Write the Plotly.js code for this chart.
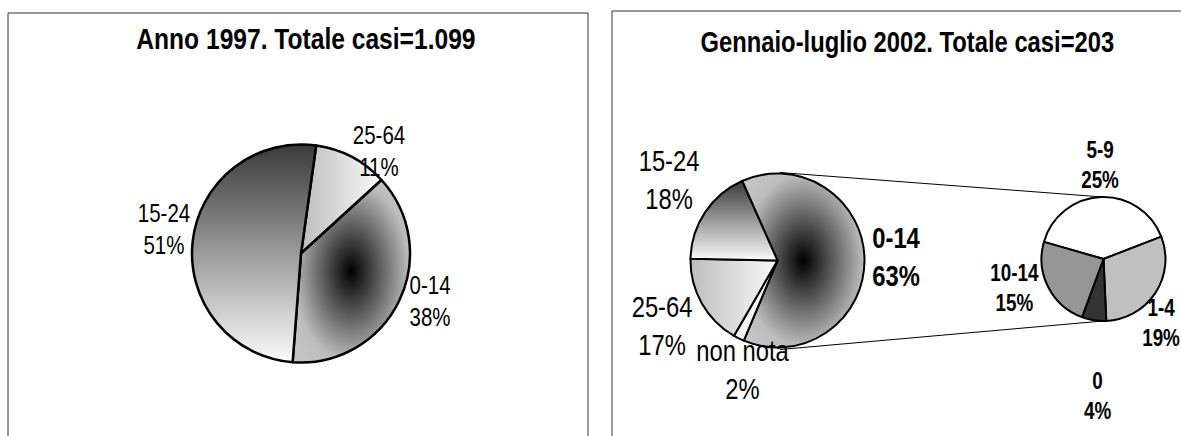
<!DOCTYPE html>
<html>
<head>
<meta charset="utf-8">
<script src="https://cdn.plot.ly/plotly-3.0.1.min.js"></script>
<style>
html,body{margin:0;padding:0;background:#fff;}
#chart{width:1181px;height:436px;}
</style>
</head>
<body>
<div id="chart"></div>
<script>
// ---- data ----
const titleLeft = 'Anno 1997. Totale casi=1.099';
const titleRight = 'Gennaio-luglio 2002. Totale casi=203';

const leftLabels = ['25-64', '0-14', '15-24'];
const leftValues = [11, 38, 51];

const mainLabels = ['0-14', 'non nota', '25-64', '15-24'];
const mainValues = [63, 2, 17, 18];

const subLabels = ['5-9', '1-4', '0', '10-14'];
const subValues = [25, 19, 4, 15];

// ---- geometry helpers (pixels -> paper) ----
const W = 1181, H = 436;
const px = x => x / W;
const py = y => 1 - y / H;
function dom(cx, cy, d) {
  return {x: [px(cx - d / 2), px(cx + d / 2)], y: [py(cy + d / 2), py(cy - d / 2)]};
}

const FONT = '"Liberation Sans", Arial, sans-serif';
const NARROW = 0.82; // Arial Narrow look

const leftDom = dom(301, 253.5, 218);
const mainDom = dom(777.5, 260.5, 174);
const subDom = dom(1103.5, 259, 124);

const traces = [
  {
    type: 'pie', labels: leftLabels, values: leftValues, sort: false,
    direction: 'clockwise', rotation: 8, textinfo: 'none', hoverinfo: 'skip',
    domain: leftDom, showlegend: false,
    marker: {colors: ['#e4e4e4', '#8a8a8a', '#9a9a9a'], line: {color: '#000', width: 2.5}}
  },
  {
    type: 'pie', labels: mainLabels, values: mainValues, sort: false,
    direction: 'clockwise', rotation: -24, textinfo: 'none', hoverinfo: 'skip',
    domain: mainDom, showlegend: false,
    marker: {colors: ['#8a8a8a', '#f4f4f4', '#dcdcdc', '#a8a8a8'], line: {color: '#000', width: 2}}
  },
  {
    type: 'pie', labels: subLabels, values: subValues, sort: false,
    direction: 'clockwise', rotation: -74, textinfo: 'none', hoverinfo: 'skip',
    domain: subDom, showlegend: false,
    marker: {colors: ['#ffffff', '#c0c0c0', '#333333', '#969696'], line: {color: '#000', width: 2}}
  }
];

function lab(text, x, y, size, bold) {
  return {
    text: text, xref: 'paper', yref: 'paper', x: px(x), y: py(y),
    xanchor: 'center', yanchor: 'middle', showarrow: false, align: 'center',
    font: {family: FONT, size: size, color: '#000', weight: bold ? 'bold' : 'normal'}
  };
}
const t = (labels, values, i) => labels[i] + '<br>' + values[i] + '%';

const annotations = [
  lab(titleLeft, 306, 39, 30, true),
  lab(titleRight, 907, 42, 29, true),
  lab(t(leftLabels, leftValues, 0), 379, 151, 25, false),
  lab(t(leftLabels, leftValues, 1), 430, 301, 25, false),
  lab(t(leftLabels, leftValues, 2), 164, 230, 25, false),
  lab(t(mainLabels, mainValues, 0), 896, 257, 29, true),
  lab(t(mainLabels, mainValues, 1), 743, 370, 29, false),
  lab(t(mainLabels, mainValues, 2), 662, 326, 29, false),
  lab(t(mainLabels, mainValues, 3), 669, 180, 29, false),
  lab(t(subLabels, subValues, 0), 1100, 165, 23, true),
  lab(t(subLabels, subValues, 1), 1161, 323, 23, true),
  lab(t(subLabels, subValues, 2), 1097, 396, 23, true),
  lab(t(subLabels, subValues, 3), 1014, 288, 23, true)
];

const shapes = [
  {type: 'rect', xref: 'paper', yref: 'paper', x0: px(8), x1: px(588), y0: py(450), y1: py(13),
   line: {color: '#333', width: 1}, fillcolor: 'rgba(0,0,0,0)', layer: 'below'},
  {type: 'rect', xref: 'paper', yref: 'paper', x0: px(612), x1: px(1200), y0: py(450), y1: py(11),
   line: {color: '#333', width: 1}, fillcolor: 'rgba(0,0,0,0)', layer: 'below'},
  {type: 'line', xref: 'paper', yref: 'paper', x0: px(780), y0: py(172.5), x1: px(1103), y1: py(197),
   line: {color: '#000', width: 1}},
  {type: 'line', xref: 'paper', yref: 'paper', x0: px(780), y0: py(349.5), x1: px(1103), y1: py(321),
   line: {color: '#000', width: 1}}
];

const layout = {
  width: W, height: H, margin: {l: 0, r: 0, t: 0, b: 0},
  paper_bgcolor: '#fff', plot_bgcolor: '#fff',
  showlegend: false, annotations: annotations, shapes: shapes
};

Plotly.newPlot('chart', traces, layout, {staticPlot: true, displayModeBar: false}).then(function (gd) {
  const NS = 'http://www.w3.org/2000/svg';
  const svg = gd.querySelector('svg.main-svg');
  let defs = svg.querySelector('defs');
  if (!defs) { defs = document.createElementNS(NS, 'defs'); svg.insertBefore(defs, svg.firstChild); }
  function addStops(g, stops) {
    stops.forEach(s => { const st = document.createElementNS(NS, 'stop'); st.setAttribute('offset', s[0]); st.setAttribute('stop-color', s[1]); g.appendChild(st); });
    defs.appendChild(g);
  }
  function linear(id, x1, y1, x2, y2, stops) {
    const g = document.createElementNS(NS, 'linearGradient');
    g.setAttribute('id', id);
    g.setAttribute('x1', x1); g.setAttribute('y1', y1); g.setAttribute('x2', x2); g.setAttribute('y2', y2);
    addStops(g, stops);
  }
  function radial(id, stops) {
    const g = document.createElementNS(NS, 'radialGradient');
    g.setAttribute('id', id);
    g.setAttribute('cx', '0.5'); g.setAttribute('cy', '0.5'); g.setAttribute('r', '0.62');
    addStops(g, stops);
  }
  linear('gH', '0', '0', '1', '0', [[0, '#bdbdbd'], [1, '#fafafa']]);
  linear('gV', '0', '0', '0', '1', [[0, '#3a3a3a'], [1, '#fbfbfb']]);
  radial('gR', [[0, '#000000'], [0.8, '#bdbdbd'], [1, '#c4c4c4']]);
  const fills = [['gH', 'gR', 'gV'], ['gR', null, 'gH', 'gV'], [null, null, null, null]];
  gd.querySelectorAll('.pielayer .trace').forEach((g, ti) => {
    g.querySelectorAll('.slice').forEach((s, si) => {
      const f = fills[ti] && fills[ti][si];
      if (f) { const p = s.querySelector('path.surface'); if (p) p.style.fill = 'url(#' + f + ')'; }
    });
  });
  // condense the label texts horizontally (Arial Narrow look)
  gd.querySelectorAll('text.annotation-text').forEach(el => {
    const b = el.getBBox();
    const cx = b.x + b.width / 2;
    el.setAttribute('transform', 'translate(' + cx + ',0) scale(' + NARROW + ',1) translate(' + (-cx) + ',0)');
  });
});
</script>
</body>
</html>
